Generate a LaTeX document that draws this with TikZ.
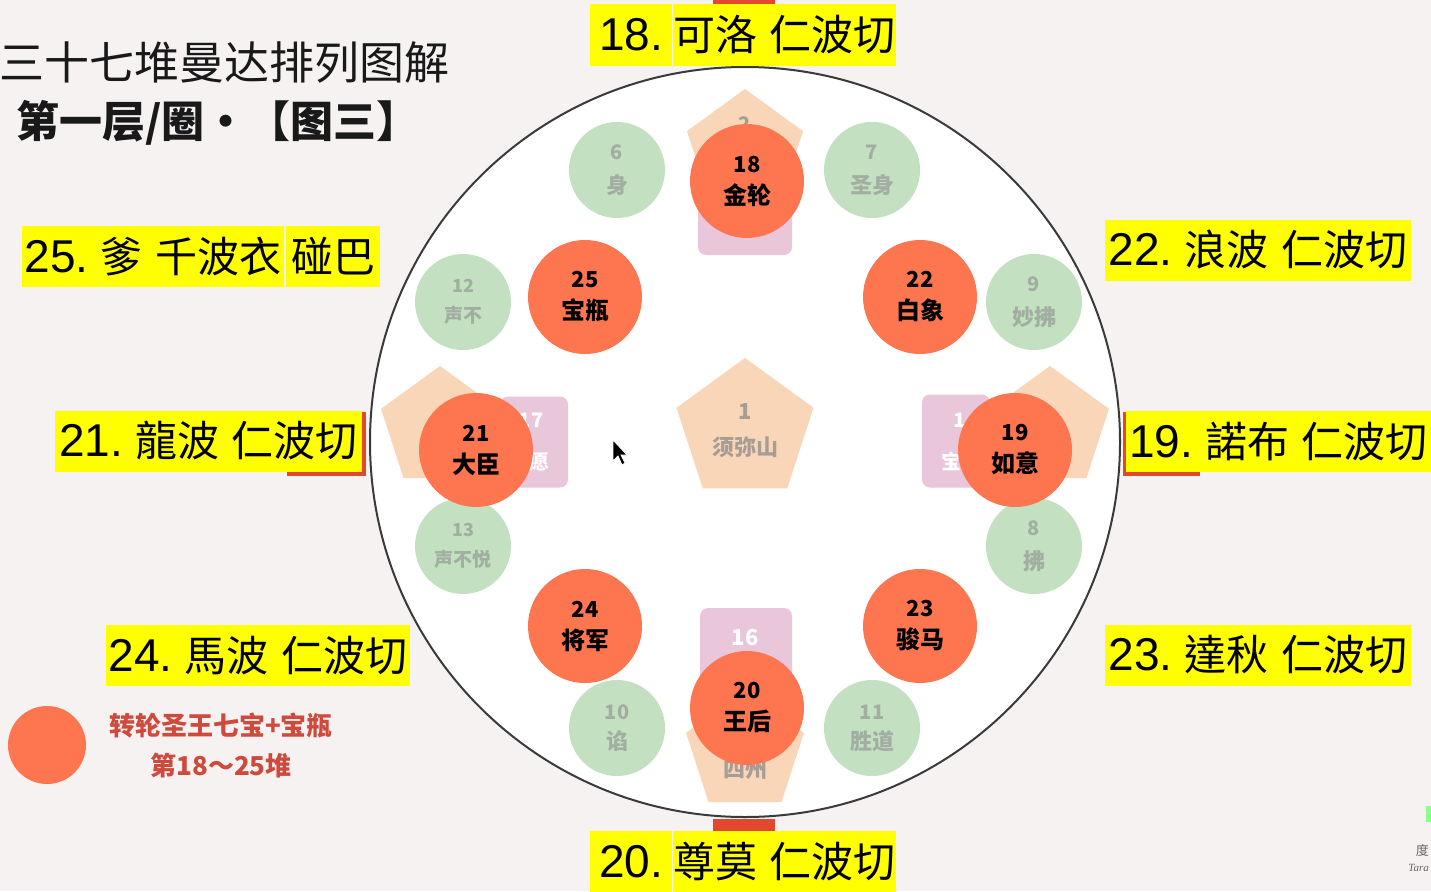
\documentclass[tikz,border=0pt]{standalone}
\usepackage{fontspec}
\setmainfont{Liberation Sans}
\newfontfamily\cjk{Noto Sans CJK SC}
\newfontfamily\cjkt{Noto Sans CJK TC}
\newfontfamily\numf{Liberation Sans}
\newfontfamily\logof{Liberation Serif}
\usetikzlibrary{shapes.geometric}
\definecolor{bgc}{HTML}{F6F2F2}
\definecolor{ringc}{HTML}{3A3A3A}
\definecolor{myorange}{HTML}{FD7650}
\definecolor{mygreen}{HTML}{C3E0C1}
\definecolor{greentext}{HTML}{A2AEA2}
\definecolor{mypink}{HTML}{E9C6DA}
\definecolor{mybeige}{HTML}{F9D6B8}
\definecolor{beigetext}{HTML}{A69D96}
\definecolor{legendred}{HTML}{CE4A3C}
\definecolor{redm}{HTML}{E2482E}
\definecolor{labyellow}{HTML}{FFFF00}
\newcommand{\fsz}[2]{\fontsize{#1}{#2}\selectfont}
\newcommand{\lnum}[1]{{\numf\fsz{46}{46}#1}}
\newcommand{\lcn}[1]{{\cjkt\fsz{42}{42}#1}}
\tikzset{
  orangec/.style={circle, fill=myorange, minimum size=114pt, inner sep=0pt, align=center, text=black, font=\cjk\bfseries\fsz{24}{32}},
  greenc/.style={circle, fill=mygreen, minimum size=96pt, inner sep=0pt, align=center, text=greentext, font=\cjk\bfseries\fsz{22}{34}},
  pinkr/.style={rectangle, rounded corners=8pt, fill=mypink, inner sep=0pt},
  pent/.style={regular polygon, regular polygon sides=5, fill=mybeige, inner sep=0pt},
  pentext/.style={text=beigetext, font=\cjk\bfseries, inner sep=0pt},
  pinktext/.style={text=white, font=\cjk\bfseries, inner sep=0pt},
  lab/.style={rectangle, fill=labyellow, inner sep=0pt, minimum height=61pt, text=black},
}
\begin{document}
\begin{tikzpicture}[x=1pt,y=-1pt]
\useasboundingbox (0,0) rectangle (1431,891);
\fill[bgc] (0,0) rectangle (1431,891);

% title
\node[font=\cjk\fsz{45}{50}, text=black!90] (title1) at (224,62) {三十七堆曼达排列图解};
\node[font=\cjk\bfseries\fsz{43}{50}, text=black!90] (title2) at (218,123) {第一层/圈·【图三】};

% big ring
\node[circle, draw=ringc, line width=2pt, fill=white, minimum size=750pt, inner sep=0pt] (ring) at (745,442) {};

% pentagons
\node[pent, minimum size=144pt] (pc) at (745,430) {};
\node[pentext, font=\cjk\bfseries\fsz{22}{22}] (pc1) at (745,412) {1};
\node[pentext, font=\cjk\bfseries\fsz{22}{22}] (pc2) at (745,447) {须弥山};
\node[pent, minimum size=122pt] (pt) at (745,150) {};
\node[pentext, font=\cjk\bfseries\fsz{20}{20}] (pt1) at (745,124) {2};
\node[pent, minimum size=124pt] (pl) at (440,428) {};
\node[pent, minimum size=124pt] (pr) at (1050,428) {};
\node[pent, minimum size=124pt] (pb) at (745,752) {};
\node[pentext, font=\cjk\bfseries\fsz{22}{22}] (pb1) at (745,769) {四州};

% pink squares
\node[pinkr, minimum width=94pt, minimum height=92pt] (pkt) at (745,209) {};
\node[pinkr, minimum width=92pt, minimum height=92pt] (pkb) at (746,654) {};
\node[pinktext, font=\cjk\bfseries\fsz{22}{22}] (pkb1) at (745,638) {16};
\node[pinkr, minimum width=68pt, minimum height=91pt] (pkl) at (534,442) {};
\node[pinktext, font=\cjk\bfseries\fsz{20}{20}] (pkl1) at (531,420) {17};
\node[pinktext, font=\cjk\bfseries\fsz{20}{20}] (pkl2) at (529,462) {满愿};
\node[pinkr, minimum width=68pt, minimum height=93pt] (pkr) at (956,441) {};
\node[pinktext, font=\cjk\bfseries\fsz{20}{20}] (pkr1) at (966,420) {14};
\node[pinktext, font=\cjk\bfseries\fsz{20}{20}] (pkr2) at (961,462) {宝山};

% green circles
\node[greenc] (g6) at (617,170) {\fsz{20}{34}6\\身};
\node[greenc] (g7) at (872,170) {\fsz{20}{34}7\\圣身};
\node[greenc, font=\cjk\bfseries\fsz{19}{30}] (g12) at (463,302) {\fsz{18}{30}12\\声不};
\node[greenc] (g9) at (1034,302) {\fsz{20}{34}9\\妙拂};
\node[greenc, font=\cjk\bfseries\fsz{19}{30}] (g13) at (463,546) {\fsz{18}{30}13\\声不悦};
\node[greenc] (g8) at (1034,546) {\fsz{20}{34}8\\拂};
\node[greenc, font=\cjk\bfseries\fsz{22}{30}] (g10) at (617,728) {\fsz{20}{30}10\\谄};
\node[greenc, font=\cjk\bfseries\fsz{22}{30}] (g11) at (872,728) {\fsz{20}{30}11\\胜道};

% orange circles
\node[orangec] (o18) at (747,181) {\fsz{22}{32}18\\金轮};
\node[orangec] (o25) at (585,297) {\fsz{22}{32}25\\宝瓶};
\node[orangec] (o22) at (920,297) {\fsz{22}{32}22\\白象};
\node[orangec] (o21) at (476,450) {\fsz{22}{32}21\\大臣};
\node[orangec] (o19) at (1015,450) {\fsz{22}{32}19\\如意};
\node[orangec] (o24) at (585,626) {\fsz{22}{32}24\\将军};
\node[orangec] (o23) at (920,626) {\fsz{22}{32}23\\骏马};
\node[orangec] (o20) at (747,708) {\fsz{22}{32}20\\王后};

% cursor
\filldraw[fill=black, draw=white, line width=0.8pt] (613,440) -- (613,461) -- (618,456) -- (622,465) -- (625,463) -- (621,455) -- (627,455) -- cycle;

% red marks behind labels
\fill[redm] (713,0) rectangle (775,7);
\fill[redm] (713,819) rectangle (775,834);
\fill[redm] (287,412) rectangle (366,476);
\fill[redm] (1123,412) rectangle (1200,476);

% labels
\node[lab, minimum width=82pt] (l18a) at (631,35) {\lnum{18.}};
\node[lab, minimum width=221pt] (l18b) at (784.5,35) {\lcn{可洛\hspace{0.3em}仁波切}};
\node[lab, minimum width=262pt] (l25a) at (153,256.5) {\lnum{25.}\hspace{12pt}\lcn{爹\hspace{0.3em}千波衣}};
\node[lab, minimum width=94pt] (l25b) at (333,256.5) {\lcn{碰巴}};
\node[lab, minimum width=306pt] (l22) at (1258,250) {\lnum{22.}\hspace{12pt}\lcn{浪波\hspace{0.3em}仁波切}};
\node[lab, minimum width=307pt] (l21) at (208.5,441) {\lnum{21.}\hspace{12pt}\lcn{龍波\hspace{0.3em}仁波切}};
\node[lab, minimum width=305pt] (l19) at (1278.5,441) {\lnum{19.}\hspace{12pt}\lcn{諾布\hspace{0.3em}仁波切}};
\node[lab, minimum width=304pt] (l24) at (258,655.5) {\lnum{24.}\hspace{12pt}\lcn{馬波\hspace{0.3em}仁波切}};
\node[lab, minimum width=306pt] (l23) at (1258,655) {\lnum{23.}\hspace{12pt}\lcn{達秋\hspace{0.3em}仁波切}};
\node[lab, minimum width=82pt] (l20a) at (631,861.5) {\lnum{20.}};
\node[lab, minimum width=221pt] (l20b) at (784.5,861.5) {\lcn{尊莫\hspace{0.3em}仁波切}};

% legend
\node[circle, fill=myorange, minimum size=78pt, inner sep=0pt] (leg) at (47,745) {};
\node[font=\cjk\bfseries\fsz{26}{40}, text=legendred, align=center] (legt) at (221,745) {转轮圣王七宝+宝瓶\\第18～25堆};

% logo fragment
\fill[green!45!white] (1426,806) rectangle (1431,822);
\node[anchor=east, font=\cjk\fsz{13}{13}, text=black!60, inner sep=0pt] (logo1) at (1429,851) {度};
\node[anchor=east, font=\logof\itshape\fsz{11}{11}, text=black!60, inner sep=0pt] (logo2) at (1429,868) {Tara};
\end{tikzpicture}
\end{document}
